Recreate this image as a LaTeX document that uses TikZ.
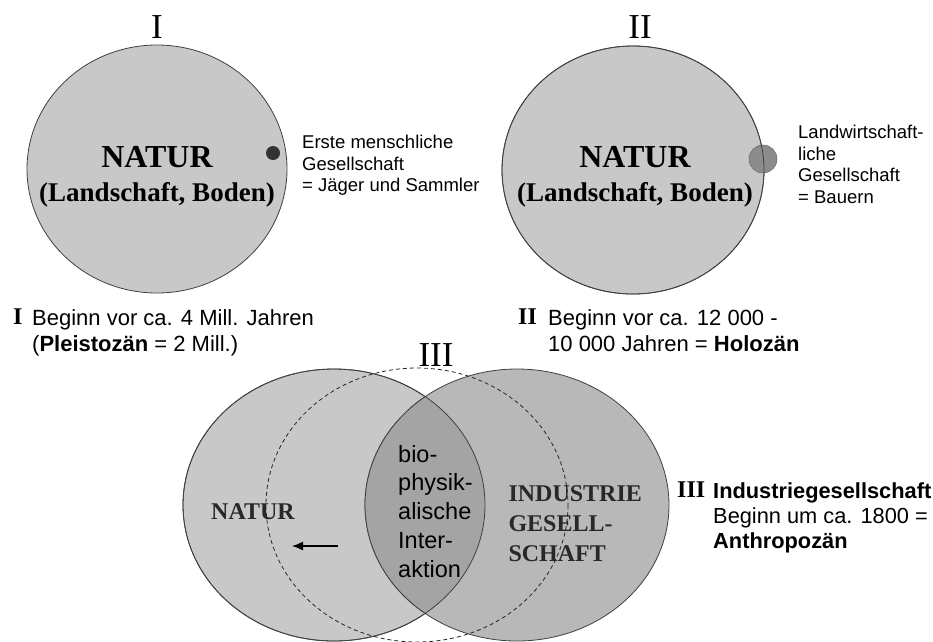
\documentclass[tikz,border=0pt]{standalone}
\usepackage{fontspec}
\setmainfont{Liberation Serif}
\setsansfont{Liberation Sans}
\usetikzlibrary{arrows.meta}

\definecolor{naturgray}{RGB}{200,200,200}
\definecolor{indgray}{RGB}{184,184,184}
\definecolor{lensgray}{RGB}{164,164,164}
\definecolor{dotgray}{RGB}{50,50,50}
\definecolor{bauerngray}{RGB}{140,140,140}
\definecolor{labelgray}{RGB}{40,40,40}

\tikzset{
  rim/.style={draw=black!75, line width=0.8pt},
  numeral/.style={font=\fontsize{35}{35}\selectfont},
  bigtitle/.style={font=\bfseries\fontsize{32}{32}\selectfont},
  subtitle/.style={font=\bfseries\fontsize{27}{30}\selectfont},
  midtitle/.style={font=\bfseries\fontsize{24}{30}\selectfont, text=labelgray},
  note/.style={font=\sffamily\fontsize{18.5}{21.5}\selectfont, align=left, anchor=north west, inner sep=0pt},
  era/.style={font=\sffamily\fontsize{22}{26}\selectfont, align=left, anchor=north west, inner sep=0pt},
  eranum/.style={font=\bfseries\fontsize{24}{24}\selectfont, anchor=west, inner sep=0pt},
}

\begin{document}
\begin{tikzpicture}[x=1pt,y=-1pt]
  \useasboundingbox (0,0) rectangle (933,641);
  % Stage I: hunters and gatherers
  \draw[rim, fill=naturgray] (157,169) ellipse [x radius=130, y radius=124];
  \node[numeral] (numI) at (157,27) {I};
  \node[bigtitle] (naturI) at (157,157) {NATUR};
  \node[subtitle] (landI) at (157,195) {(Landschaft, Boden)};
  \fill[dotgray] (273,153) circle (7);
  \node[note] (jaeger) at (302,135) {Erste menschliche\\Gesellschaft\\= Jäger und Sammler};

  % Stage II: farmers
  \draw[rim, fill=naturgray] (633,170) ellipse [x radius=131, y radius=124];
  \draw[draw=black!60, line width=0.5pt, fill=bauerngray] (763,159) circle (14);
  \draw[rim] (633,170) ellipse [x radius=131, y radius=124];
  \node[numeral] (numII) at (640,27) {II};
  \node[bigtitle] (naturII) at (635,157) {NATUR};
  \node[subtitle] (landII) at (635,195) {(Landschaft, Boden)};
  \node[note] (bauern) at (798,125) {Landwirtschaft-\\liche\\Gesellschaft\\= Bauern};

  % Time notes
  \node[eranum] (eraI) at (13,317) {I};
  \node[era] (textI) at (32,309) {Beginn vor ca. 4 Mill. Jahren\\(\textbf{Pleistozän} = 2 Mill.)};
  \node[eranum] (eraII) at (518,317) {II};
  \node[era] (textII) at (548,309) {Beginn vor ca. 12 000 -\\10 000 Jahren = \textbf{Holozän}};

  % Stage III: industrial society
  \node[numeral] (numIII) at (436,355) {III};
  \draw[rim, fill=naturgray] (334,505) ellipse [x radius=151, y radius=136];
  \draw[rim, fill=indgray] (517,505) ellipse [x radius=152, y radius=136];
  \begin{scope}
    \clip (334,505) ellipse [x radius=151, y radius=136];
    \draw[rim, fill=lensgray] (517,505) ellipse [x radius=152, y radius=136];
  \end{scope}
  \draw[rim] (334,505) ellipse [x radius=151, y radius=136];
  \draw[black!85, line width=0.8pt, dash pattern=on 4pt off 3pt] (417,505) ellipse [x radius=151, y radius=137];

  \node[midtitle] (naturIII) at (253,512) {NATUR};
  \node[midtitle, align=left, anchor=west] (industrie) at (505,524) {INDUSTRIE\\GESELL-\\SCHAFT};
  \node[font=\sffamily\fontsize{23.5}{28.7}\selectfont, align=left, anchor=north west, inner sep=0pt] (interaktion) at (398,445) {bio-\\physik-\\alische\\Inter-\\aktion};
  \coordinate (pushstart) at (338,546);
  \coordinate (pushend) at (292,546);
  \draw[line width=1.3pt, -{Latex[length=11pt, width=9pt]}] (pushstart) -- (pushend);

  \node[eranum] (eraIII) at (677,490) {III};
  \node[era, font=\sffamily\fontsize{21.8}{25}\selectfont] (textIII) at (713,482) {\textbf{Industriegesellschaft}\\Beginn um ca. 1800 =\\\textbf{Anthropozän}};
\end{tikzpicture}
\end{document}
